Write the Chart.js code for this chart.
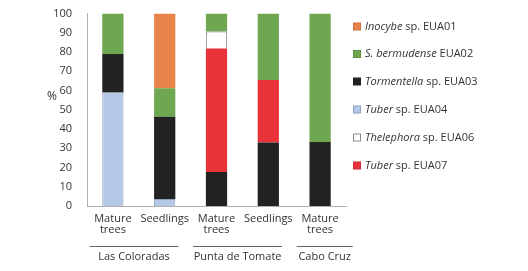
<!DOCTYPE html>
<html><head><meta charset="utf-8">
<script src="https://cdn.jsdelivr.net/npm/chart.js@4"></script>
<style>html,body{margin:0;padding:0;background:#fff;}#wrap{width:528px;height:271px;}</style>
</head><body><div id="wrap"><canvas id="c" width="528" height="271"></canvas></div>
<script>
const categories = [['Mature','trees'], 'Seedlings', ['Mature','trees'], 'Seedlings', ['Mature','trees']];
const sites = ['Las Coloradas', 'Punta de Tomate', 'Cabo Cruz'];
const siteSpans = [[0,1],[2,3],[4,4]];
const yTicks = [0,10,20,30,40,50,60,70,80,90,100];
const tuber04 = [59, 3.6, null, null, null];
const tormentella03 = [20, 42.8, 17.7, 33, 33.3];
const tuber07 = [null, null, 64.1, 32.5, null];
const thelephora06 = [null, null, 8.9, null, null];
const bermudense02 = [21, 14.8, 9.3, 34.5, 66.7];
const inocybe01 = [null, 38.8, null, null, null];

const legendItems = [
  {it:'Inocybe', rest:' sp. EUA01', color:'#E8834A', border:'#d07040'},
  {it:'S. bermudense', rest:' EUA02', color:'#6FA650', border:'#5f9040'},
  {it:'Tormentella', rest:' sp. EUA03', color:'#222222', border:'#222222'},
  {it:'Tuber', rest:' sp. EUA04', color:'#B4C7E7', border:'#8e9fbf'},
  {it:'Thelephora', rest:' sp. EUA06', color:'#ffffff', border:'#8a8a8a'},
  {it:'Tuber', rest:' sp. EUA07', color:'#E83438', border:'#d02a2e'}
];
const FONT = "'Open Sans', sans-serif";

const extras = {
  id:'extras',
  afterDraw(chart){
    const ctx = chart.ctx, xs = chart.scales.x;
    ctx.save();
    ctx.fillStyle = '#333'; ctx.font = '12px ' + FONT;
    ctx.textAlign = 'center'; ctx.textBaseline = 'middle';
    ctx.fillText('%', 52, 97);
    ctx.font = '11px ' + FONT;
    const catW = (xs.right - xs.left) / categories.length;
    siteSpans.forEach((s, i) => {
      const x0 = xs.getPixelForValue(s[0]) - catW/2 + 2.5;
      const len = s[1] > s[0] ? 89 : 56;
      ctx.strokeStyle = '#666'; ctx.lineWidth = 1;
      ctx.beginPath(); ctx.moveTo(x0, 246.5); ctx.lineTo(x0 + len, 246.5); ctx.stroke();
      ctx.fillStyle = '#333'; ctx.textAlign = 'center';
      ctx.fillText(sites[i], x0 + len/2, 257);
    });
    const ys = [26.5, 54, 81.5, 109.5, 137.5, 165.5];
    legendItems.forEach((it, i) => {
      const y = ys[i];
      ctx.fillStyle = it.color; ctx.fillRect(353.5, y - 3.5, 7, 7);
      ctx.strokeStyle = it.border; ctx.lineWidth = 1; ctx.strokeRect(353.5, y - 3.5, 7, 7);
      ctx.textAlign = 'left'; ctx.fillStyle = '#333';
      ctx.font = 'italic 11px ' + FONT;
      ctx.fillText(it.it, 365, y);
      const w = ctx.measureText(it.it).width;
      ctx.font = '11px ' + FONT;
      ctx.fillText(it.rest, 365 + w, y);
    });
    ctx.restore();
  }
};

function ds(label, data, color, border, bw){
  return {label, data, backgroundColor: color, borderColor: border, borderWidth: bw,
          categoryPercentage: 1, barPercentage: 0.41};
}

new Chart(document.getElementById('c'), {
  type: 'bar',
  data: {
    labels: categories,
    datasets: [
      ds('Tuber sp. EUA04', tuber04, '#B4C7E7', '#8e9fbf', 1),
      ds('Tormentella sp. EUA03', tormentella03, '#222222', '#222222', 0),
      ds('Tuber sp. EUA07', tuber07, '#E83438', '#E83438', 0),
      ds('Thelephora sp. EUA06', thelephora06, '#ffffff', '#8a8a8a', 1),
      ds('S. bermudense EUA02', bermudense02, '#6FA650', '#6FA650', 0),
      ds('Inocybe sp. EUA01', inocybe01, '#E8834A', '#E8834A', 0)
    ]
  },
  options: {
    responsive: false, animation: false,
    layout: { padding: { left: 0, right: 182, top: 12, bottom: 0 } },
    plugins: { legend: { display: false }, tooltip: { enabled: false } },
    scales: {
      x: {
        stacked: true,
        grid: { display: false },
        border: { display: true, color: '#b0b0b0', width: 1 },
        ticks: { color: '#333', font: { family: FONT, size: 11, lineHeight: 1.0 }, padding: -1, maxRotation: 0, autoSkip: false },
        afterFit(s){ s.height = 65; }
      },
      y: {
        stacked: true, min: 0, max: 100,
        grid: { display: false },
        border: { display: true, color: '#b0b0b0', width: 1 },
        afterBuildTicks(s){ s.ticks = yTicks.map(v => ({value: v})); },
        ticks: { color: '#333', font: { family: FONT, size: 11 }, padding: 7 },
        afterFit(s){ s.width = 87; }
      }
    }
  },
  plugins: [extras]
});
</script></body></html>
